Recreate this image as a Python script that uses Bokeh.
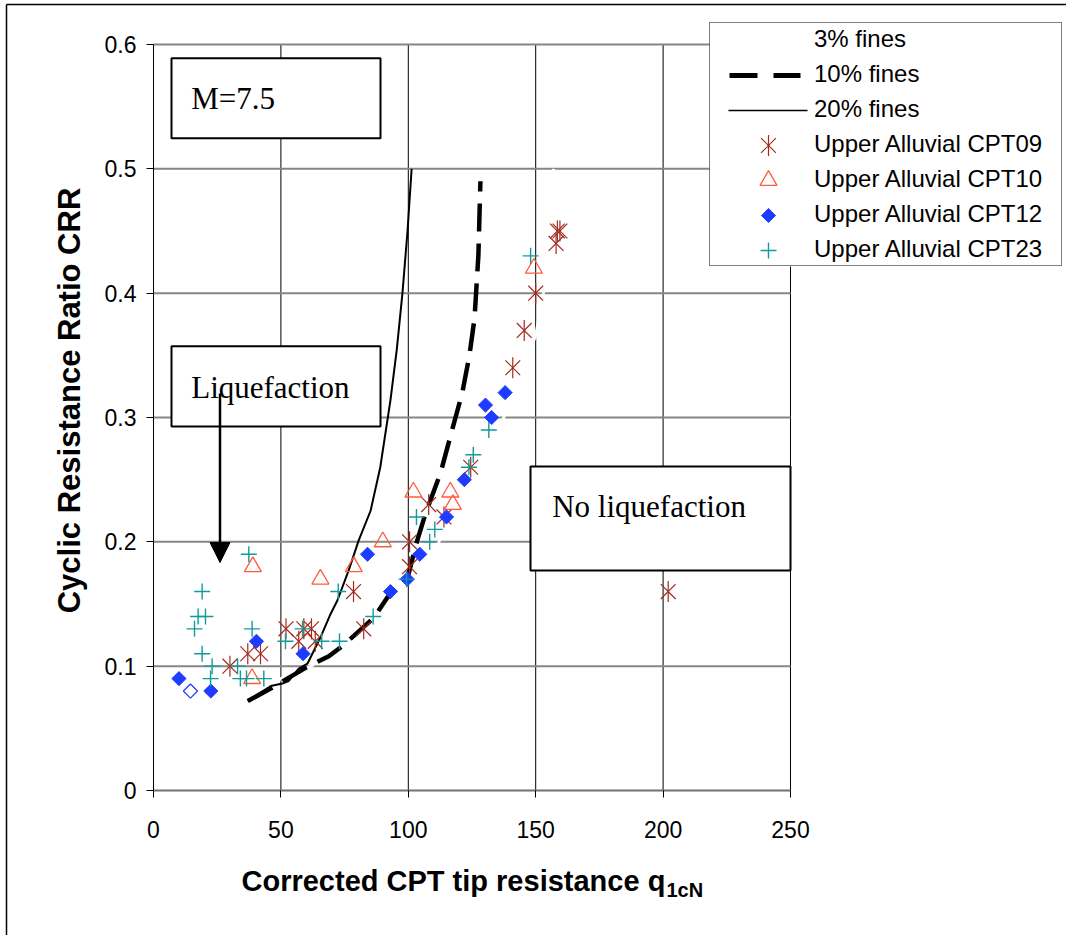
import math
from bokeh.plotting import figure
from bokeh.models import Legend, LegendItem, Label, Arrow, NormalHead, FixedTicker, Range1d
from bokeh.embed import file_html
from bokeh.resources import INLINE

# ---------------- data ----------------
x_ticks = [0, 50, 100, 150, 200, 250]
y_ticks = [0.0, 0.1, 0.2, 0.3, 0.4, 0.5, 0.6]
y_tick_labels = ["0", "0.1", "0.2", "0.3", "0.4", "0.5", "0.6"]

# CRR curves
fines3_x = [37, 50, 62, 80, 100, 112, 125, 137.5, 150, 153, 157]
fines3_y = [0.075, 0.09, 0.10, 0.13, 0.172, 0.20, 0.255, 0.30, 0.366, 0.40, 0.50]

fines10_x = [37, 46, 52.5, 60, 68.8, 74.6, 80, 86.5, 91.7, 96, 99.7, 103.5, 106.8, 112.6, 117.2, 121.2, 124, 126, 127.5, 128.3]
fines10_y = [0.072, 0.082, 0.090, 0.099, 0.108, 0.117, 0.127, 0.139, 0.155, 0.163, 0.171, 0.201, 0.223, 0.255, 0.290, 0.320, 0.35, 0.38, 0.43, 0.49]

fines20_x = [37, 46, 50.6, 53, 57, 60.4, 65.5, 69.5, 72.2, 76.6, 80.5, 85.2, 89, 93, 95.5, 97.7, 99.7, 101.3]
fines20_y = [0.072, 0.084, 0.086, 0.088, 0.098, 0.102, 0.123, 0.142, 0.153, 0.177, 0.201, 0.225, 0.26, 0.314, 0.355, 0.40, 0.45, 0.50]

# Upper Alluvial CPT points
cpt09_x = [30, 37, 42, 52, 59, 62, 57, 63.5, 78.5, 82.5, 100.5, 100.5, 108, 114, 124.5, 141, 145.5, 150, 158, 158.5, 159.5, 202]
cpt09_y = [0.10, 0.11, 0.11, 0.13, 0.13, 0.13, 0.12, 0.12, 0.16, 0.13, 0.20, 0.18, 0.23, 0.22, 0.26, 0.34, 0.37, 0.40, 0.44, 0.45, 0.45, 0.16]

cpt10_x = [38.7, 39, 65.5, 78.6, 90, 102, 116.5, 117.5, 149.3]
cpt10_y = [0.09, 0.18, 0.17, 0.18, 0.20, 0.24, 0.24, 0.23, 0.42]

cpt12_x = [10, 22.5, 40.4, 58.7, 84, 93, 99.6, 104.5, 115, 122, 130.3, 132.7, 138]
cpt12_y = [0.09, 0.08, 0.12, 0.11, 0.19, 0.16, 0.17, 0.19, 0.22, 0.25, 0.31, 0.30, 0.32]
cpt12_open_x = [14.5]
cpt12_open_y = [0.08]

cpt23_x = [37.4, 19.1, 17.5, 20.4, 16.1, 38.7, 19.1, 23, 33, 22.4, 34.1, 36.5, 43.3, 58.5, 51.8, 66, 73,
           72.5, 86.2, 99.3, 103.2, 108.4, 110.4, 123.8, 125.5, 131.6, 148]
cpt23_y = [0.19, 0.16, 0.14, 0.14, 0.13, 0.13, 0.11, 0.10, 0.10, 0.09, 0.09, 0.09, 0.09, 0.13, 0.12, 0.12, 0.12,
           0.16, 0.14, 0.17, 0.22, 0.20, 0.21, 0.26, 0.27, 0.29, 0.43]

legend_labels = ["3% fines", "10% fines", "20% fines", "Upper Alluvial CPT09",
                 "Upper Alluvial CPT10", "Upper Alluvial CPT12", "Upper Alluvial CPT23"]

# ---------------- layout (page pixels) ----------------
W, H = 1066, 935
PX0, PX250 = 153.0, 790.0      # page x of x=0 and x=250
PY0, PY06 = 790.0, 44.0        # page y of y=0 and y=0.6


def px2x(px):
    return (px - PX0) / (PX250 - PX0) * 250.0


def px2y(py):
    return (PY0 - py) / (PY0 - PY06) * 0.6


C09 = "#A3291F"
C10 = "#FF5A3C"
C12 = "#1E3CFF"
C23 = "#139A9A"
FONT = "Liberation Sans"
STAR = 21

p = figure(width=W, height=H, x_range=Range1d(px2x(0), px2x(W)), y_range=Range1d(px2y(H), px2y(0)),
           output_backend="svg", toolbar_location=None, min_border=0, outline_line_color=None,
           background_fill_color="white", border_fill_color="white")
p.grid.visible = False

# axes fixed at the data origin, bounded to the plotted range
p.xaxis.fixed_location = 0
p.yaxis.fixed_location = 0
p.xaxis.bounds = (0, 250)
p.yaxis.bounds = (0, 0.6)
p.xaxis.ticker = FixedTicker(ticks=x_ticks)
p.yaxis.ticker = FixedTicker(ticks=y_ticks)
p.yaxis.major_label_overrides = {t: s for t, s in zip(y_ticks, y_tick_labels)}
for ax in (p.xaxis[0], p.yaxis[0]):
    ax.major_label_text_font = FONT
    ax.major_label_text_font_size = "23px"
    ax.major_label_text_color = "black"
    ax.major_tick_in = 0
    ax.major_tick_out = 7
    ax.major_tick_line_color = "black"
    ax.minor_tick_line_color = None
    ax.axis_label = None
p.yaxis.axis_line_color = "black"
p.xaxis.axis_line_color = "#707070"
p.xaxis.axis_line_width = 2
p.yaxis.major_label_standoff = 10
p.xaxis.major_label_standoff = 23

# outer chart border (left / top)
p.segment(x0=[px2x(6), px2x(6)], y0=[px2y(4), px2y(4)], x1=[px2x(6), px2x(W)], y1=[px2y(H), px2y(4)],
          line_color="black", line_width=1.5)

# gridlines
gx = x_ticks[1:]
gy = y_ticks[1:]
p.segment(x0=gx, y0=[0] * len(gx), x1=gx, y1=[0.6] * len(gx), line_color="black", line_width=1)
p.segment(x0=[0] * len(gy), y0=gy, x1=[250] * len(gy), y1=gy, line_color="#868686", line_width=2)

# axis titles
p.add_layout(Label(x=px2x(69), y=px2y(400), text="Cyclic Resistance Ratio CRR", angle=math.pi / 2,
                   text_font=FONT, text_font_size="31px", text_font_style="bold",
                   text_align="center", text_baseline="middle", text_color="black"))
p.add_layout(Label(x=px2x(241), y=px2y(880), text="Corrected CPT tip resistance q",
                   text_font=FONT, text_font_size="29px", text_font_style="bold",
                   text_baseline="middle", text_align="left", text_color="black"))
p.add_layout(Label(x=px2x(666), y=px2y(889), text="1cN",
                   text_font=FONT, text_font_size="20px", text_font_style="bold",
                   text_baseline="middle", text_align="left", text_color="black"))

# text boxes
box_left = [px2x(171), px2x(171), px2x(530)]
box_right = [px2x(380), px2x(380), px2x(790)]
box_top = [px2y(57.7), px2y(345.7), px2y(466)]
box_bottom = [px2y(137.7), px2y(426), px2y(570)]
p.quad(left=box_left, right=box_right, top=box_top, bottom=box_bottom,
       fill_color="white", line_color="black", line_width=2)
for txt, lx, ly in [("M=7.5", 190.7, 98.3), ("Liquefaction", 190.7, 386.7), ("No liquefaction", 551.7, 506)]:
    p.add_layout(Label(x=px2x(lx), y=px2y(ly), text=txt, text_font="Liberation Serif",
                       text_font_size="31px", text_baseline="alphabetic", text_align="left",
                       text_color="black"))

# legend background (white) -- legend box itself drawn by Legend below
LG_L, LG_T, LG_R, LG_B = 709, 24, 1060, 266
p.quad(left=[px2x(LG_L)], right=[px2x(LG_R)], top=[px2y(LG_T)], bottom=[px2y(LG_B)],
       fill_color="white", line_color=None)

# curves
r3 = p.line(fines3_x, fines3_y, line_color="white", line_width=3)
r20 = p.line(fines20_x, fines20_y, line_color="black", line_width=2)
r10 = p.line(fines10_x, fines10_y, line_color="black", line_width=4.5, line_dash="28 12")

# markers
p.scatter(cpt09_x, cpt09_y, marker="x", size=STAR, line_color=C09, line_width=1.2)
p.scatter(cpt09_x, cpt09_y, marker="dash", angle=math.pi / 2, size=STAR, line_color=C09, line_width=1.2)
p.scatter(cpt10_x, cpt10_y, marker="triangle", size=17, line_color=C10, fill_color=None, line_width=1.3)
p.scatter(cpt12_x, cpt12_y, marker="square", angle=math.pi / 4, size=10, line_color=C12, fill_color=C12)
p.scatter(cpt12_open_x, cpt12_open_y, marker="square", angle=math.pi / 4, size=10, line_color=C12,
          fill_color=None, line_width=1.2)
p.scatter(cpt23_x, cpt23_y, marker="cross", size=16, line_color=C23, line_width=1.4)

# legend swatches
row_y = [px2y(LG_T + 16 + 35 * i) for i in range(7)]
p.line([px2x(729), px2x(800)], [row_y[1]] * 2, line_color="black", line_width=5, line_dash="28 16")
p.line([px2x(728), px2x(807)], [row_y[2]] * 2, line_color="black", line_width=1.5)
sw_x = px2x(768)
p.scatter([sw_x], [row_y[3]], marker="x", size=STAR, line_color=C09, line_width=1.2)
p.scatter([sw_x], [row_y[3]], marker="dash", angle=math.pi / 2, size=STAR, line_color=C09, line_width=1.2)
p.scatter([sw_x], [row_y[4]], marker="triangle", size=17, line_color=C10, fill_color=None, line_width=1.3)
p.scatter([sw_x], [row_y[5]], marker="square", angle=math.pi / 4, size=10, line_color=C12, fill_color=C12)
p.scatter([sw_x], [row_y[6]], marker="cross", size=16, line_color=C23, line_width=1.4)

dummy = p.scatter(x=[], y=[], size=0, fill_alpha=0, line_alpha=0)
legend = Legend(items=[LegendItem(label=lab, renderers=[dummy]) for lab in legend_labels],
                location=(LG_L, H - LG_B), padding=2, spacing=7, label_height=28, glyph_height=28,
                glyph_width=89, label_standoff=13, label_width=245, margin=0,
                border_line_color="black", border_line_width=1, background_fill_alpha=0,
                label_text_font=FONT, label_text_font_size="24px", label_text_color="black")
p.add_layout(legend)

# arrow
p.add_layout(Arrow(end=NormalHead(size=20, fill_color="black", line_color="black", line_width=1),
                   x_start=px2x(219.5), y_start=px2y(393), x_end=px2x(219.5), y_end=px2y(562),
                   line_color="black", line_width=2.5))

open("out.html", "w").write(file_html(p, INLINE))
